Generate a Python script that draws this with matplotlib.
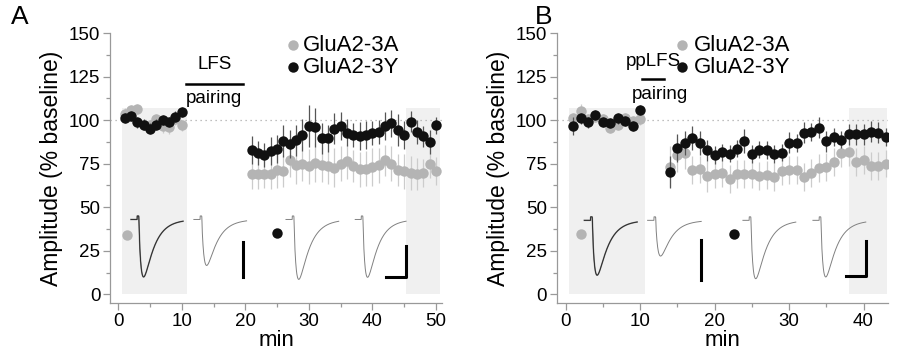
import numpy as np
import matplotlib
matplotlib.use("Agg")
import matplotlib.pyplot as plt

plt.rcParams['font.family'] = ['Liberation Sans', 'DejaVu Sans']

# ---------------- data ----------------
# panel A (LFS pairing)
a_t_base = [1, 2, 3, 4, 5, 6, 7, 8, 9, 10]
a_3y_base = [101.3, 102.5, 98.7, 97.5, 95.2, 97.5, 100, 99, 102, 104.8]
a_3y_base_err = [3, 3, 3, 3, 3, 3, 3, 3, 3, 3]
a_3a_base = [103.8, 106, 106.3, 97.5, 97, 100.5, 96.7, 95.8, 100.5, 97]
a_3a_base_err = [3, 3, 3, 3, 3, 3, 4, 4, 3, 3]

a_t_post = list(range(21, 51))
a_3y_post = [83.1, 81.2, 79.9, 82.4, 83.7, 88.1, 86.2, 88.5, 91.4, 96.7,
             95.8, 89.5, 89.5, 95.2, 96.7, 92.9, 91.4, 90.8, 91.4, 92.7,
             93.3, 96.6, 98.1, 94.3, 91.4, 99.0, 93.3, 90.8, 87.5, 97.1]
a_3y_post_err = [8, 7, 7, 8, 8, 9, 8, 9, 9, 12, 11, 9, 8, 9, 8,
                 8, 7, 8, 8, 7, 7, 8, 8, 9, 8, 6, 7, 6, 7, 5]
a_3a_post = [69.3, 69.3, 69.3, 69.3, 71.3, 70.9, 77.4, 74.1, 75.1, 73.6,
             75.7, 74.5, 73.6, 72.8, 75.1, 76.4, 73.6, 71.8, 72.2, 73.2,
             74.1, 77.0, 75.1, 71.3, 70.7, 69.7, 69.0, 69.7, 74.7, 70.9]
a_3a_post_err = [9, 9, 8, 9, 10, 9, 10, 11, 10, 10, 11, 10, 10, 11, 10,
                 10, 9, 10, 10, 11, 10, 9, 10, 9, 10, 10, 9, 8, 8, 8]

# panel B (ppLFS pairing)
b_t_base = [1, 2, 3, 4, 5, 6, 7, 8, 9, 10]
b_3y_base = [96.6, 101, 98.7, 102.9, 99, 98.5, 101, 99.6, 96.7, 105.7]
b_3y_base_err = [5, 3, 3, 3, 3, 3, 3, 3, 3, 3]
b_3a_base = [101, 105.4, 100.5, 102, 100.5, 95.5, 97.5, 101, 99.5, 100.5]
b_3a_base_err = [3, 4, 3, 3, 3, 3, 3, 3, 3, 3]

b_t_post = list(range(14, 44))
b_3y_post = [70.3, 84.1, 87.0, 89.8, 87.0, 82.8, 79.9, 81.6, 80.8, 83.7,
             88.1, 80.5, 83.1, 82.8, 80.5, 81.4, 87.0, 87.0, 92.7, 93.3,
             95.6, 87.9, 90.4, 88.9, 91.8, 92.0, 92.0, 93.3, 92.9, 90.4]
b_3y_post_err = [9, 8, 7, 7, 7, 6, 5, 5, 5, 5, 7, 5, 5, 5, 5,
                 5, 6, 5, 6, 5, 6, 6, 5, 5, 6, 6, 6, 6, 6, 5]
b_3a_post = [73.4, 80.0, 81.2, 71.6, 71.7, 67.8, 69.3, 69.5, 66.3, 69.3,
             69.3, 69.0, 68.0, 68.4, 67.4, 70.7, 71.3, 71.3, 67.4, 69.7,
             72.6, 73.2, 76.1, 81.2, 81.8, 76.1, 77.0, 73.6, 73.6, 75.1]
b_3a_post_err = [12, 10, 9, 8, 8, 9, 8, 8, 8, 8, 8, 8, 8, 8, 8,
                 8, 8, 8, 8, 8, 8, 8, 8, 8, 8, 8, 8, 8, 8, 8]

# example EPSC traces: (start, end, baseline, peak) in data units
a_traces = [(2.0, 10.2, 43, 10), (11.9, 20.2, 43, 16.6),
            (26.4, 34.7, 43, 8.6), (37.3, 45.3, 43, 9.8)]
b_traces = [(2.5, 9.6, 42.5, 11), (11.0, 18.2, 42.5, 22),
            (23.8, 30.9, 42.5, 9), (33.2, 40.3, 42.5, 10)]

GRAY = '#b4b4b4'
BLACK = '#111111'
SPINE = '#999999'


def epsc(x0, x1, base, peak, n=300):
    t = np.linspace(0, 1, n)
    tp = 0.15
    s = np.clip(t - tp, 0, None)
    w = np.exp(-s / 0.2) - np.exp(-s / 0.05)
    w = w / w.max()
    y = base - (base - peak) * w
    # small stimulus artefact
    art = (t > tp - 0.03) & (t < tp + 0.005)
    y[art] += 2.0
    return x0 + t * (x1 - x0), y


def panel(ax, tb, yb, ybe, ab, abe, tp, yp, ype, ap, ape, xlim, shades, traces, bars):
    ax.set_xlim(*xlim)
    ax.set_ylim(-5, 150)
    for s0, s1 in shades:
        ax.fill_between([s0, s1], 0, 107, color='#f0f0f0', lw=0, zorder=0)
    ax.axhline(100, color='#aaaaaa', ls=(0, (1, 3)), lw=0.9, zorder=1)

    kw = dict(fmt='o', ms=7.5, elinewidth=0.9, capsize=0, mew=0)
    ax.errorbar(tb, ab, yerr=abe, color=GRAY, ecolor='#cccccc', zorder=3, **kw)
    ax.errorbar(tb, yb, yerr=ybe, color=BLACK, ecolor='#555555', zorder=4, **kw)
    ax.errorbar(tp, ap, yerr=ape, color=GRAY, ecolor='#cccccc', zorder=3, **kw)
    ax.errorbar(tp, yp, yerr=ype, color=BLACK, ecolor='#555555', zorder=4, **kw)

    for i, (x0, x1, base, pk) in enumerate(traces):
        x, y = epsc(x0, x1, base, pk)
        if i == 0:
            ax.plot(x, y, color='#888888', lw=1.1, zorder=5)
            ax.plot(x, y, color='#222222', lw=0.6, zorder=5)
        else:
            ax.plot(x, y, color='#808080', lw=0.7, zorder=5)
    vb, lb, gdot, bdot = bars
    ax.plot([vb[0], vb[0]], [vb[1], vb[2]], color='black', lw=2.2, zorder=5)
    ax.plot([lb[0], lb[1], lb[1]], [lb[2], lb[2], lb[3]], color='black', lw=2.2, zorder=5)
    ax.plot(*gdot, 'o', color=GRAY, ms=7.5, mew=0)
    ax.plot(*bdot, 'o', color=BLACK, ms=7.5, mew=0)

    for side in ('top', 'right'):
        ax.spines[side].set_visible(False)
    for side in ('left', 'bottom'):
        ax.spines[side].set_color(SPINE)
        ax.spines[side].set_linewidth(0.9)
    ax.set_yticks([0, 25, 50, 75, 100, 125, 150])
    ax.set_yticks(np.arange(0, 151, 12.5), minor=True)
    ax.tick_params(which='both', color=SPINE, labelsize=13.5, width=0.9, pad=2)
    ax.tick_params(which='major', length=5)
    ax.tick_params(which='minor', length=3)
    ax.set_ylabel('Amplitude (% baseline)', fontsize=16.5, labelpad=4)
    ax.set_xlabel('min', fontsize=16, labelpad=0.5)


fig = plt.figure(figsize=(8.98, 3.52), dpi=100)
axA = fig.add_axes([0.1225, 0.139, 0.37, 0.767])
axB = fig.add_axes([0.620, 0.139, 0.369, 0.767])

panel(axA, a_t_base, a_3y_base, a_3y_base_err, a_3a_base, a_3a_base_err,
      a_t_post, a_3y_post, a_3y_post_err, a_3a_post, a_3a_post_err,
      (-1.3, 51), [(0.6, 10.8), (45.3, 50.7)], a_traces,
      ((19.7, 30, 10), (42.2, 45.3, 10, 28), (1.4, 34), (25, 35)))
axA.set_xticks([0, 10, 20, 30, 40, 50])
axA.set_xticks(np.arange(0, 51, 5), minor=True)

panel(axB, b_t_base, b_3y_base, b_3y_base_err, b_3a_base, b_3a_base_err,
      b_t_post, b_3y_post, b_3y_post_err, b_3a_post, b_3a_post_err,
      (-1.2, 43.3), [(0.4, 10.7), (38.0, 43.1)], b_traces,
      ((18.2, 31, 8), (37.6, 40.3, 10.3, 30.5), (2.0, 34.5), (22.6, 34.5)))
axB.set_xticks([0, 10, 20, 30, 40])
axB.set_xticks(np.arange(0, 41, 5), minor=True)

# pairing annotations
axA.plot([10.6, 19.7], [121, 121], color='black', lw=1.8, clip_on=False)
axA.text(15.1, 127, 'LFS', ha='center', va='bottom', fontsize=13.5)
axA.text(15.1, 117.5, 'pairing', ha='center', va='top', fontsize=13.5)
axB.plot([10.2, 13.2], [123.5, 123.5], color='black', lw=1.8, clip_on=False)
axB.text(11.8, 129, 'ppLFS', ha='center', va='bottom', fontsize=13.5)
axB.text(12.6, 119.5, 'pairing', ha='center', va='top', fontsize=13.5)

# legends
for ax, lx in ((axA, 27.5), (axB, 15.6)):
    ax.plot(lx, 143, 'o', color=GRAY, ms=7.5, mew=0, clip_on=False)
    ax.plot(lx, 130.5, 'o', color=BLACK, ms=7.5, mew=0, clip_on=False)
    ax.text(lx + 1.6, 143, 'GluA2-3A', va='center', fontsize=16)
    ax.text(lx + 1.6, 130.5, 'GluA2-3Y', va='center', fontsize=16)

fig.text(0.012, 0.932, 'A', fontsize=19)
fig.text(0.596, 0.932, 'B', fontsize=19)

fig.savefig('out.png', dpi=100)
